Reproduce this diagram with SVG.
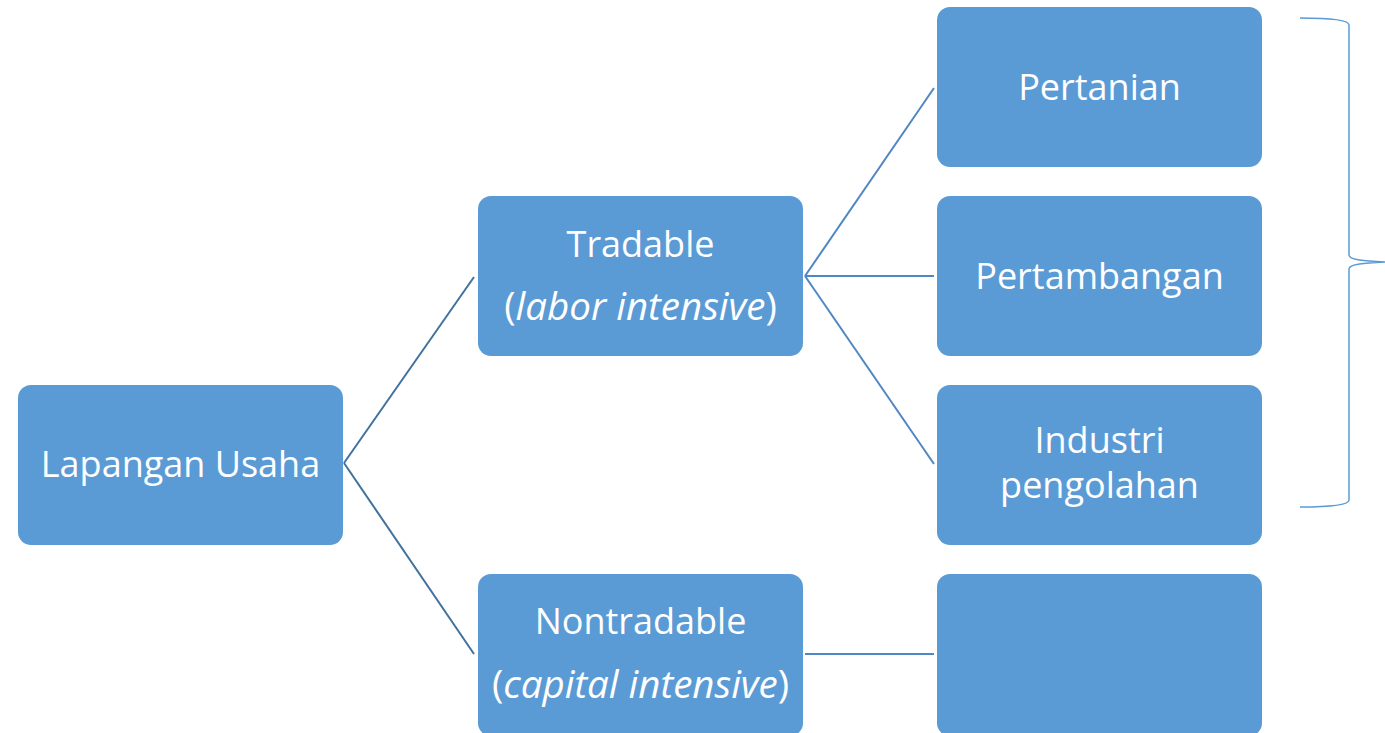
<svg xmlns="http://www.w3.org/2000/svg" width="1385" height="733" viewBox="0 0 1385 733">
<style>
.box{fill:#5B9BD5;}
.t{font-family:"Open Sans","Liberation Sans",sans-serif;font-size:36px;fill:#FFFFFF;text-anchor:middle;}
.w{font-size:38.5px;}
.i{font-style:italic;}
.c1{stroke:#41719C;stroke-width:2;fill:none;}
.c2{stroke:#4F87C3;stroke-width:2;fill:none;}
.brace{stroke:#5B9BD5;stroke-width:1.5;fill:none;}
</style>
<rect width="1385" height="733" fill="#FFFFFF"/>
<g id="connectors">
<line class="c1" x1="344" y1="463" x2="474" y2="277"/>
<line class="c1" x1="344" y1="463" x2="474" y2="654"/>
<line class="c2" x1="805" y1="276" x2="934" y2="88"/>
<line class="c2" x1="805" y1="276" x2="934" y2="276"/>
<line class="c2" x1="805" y1="276" x2="934" y2="464"/>
<line class="c2" x1="805" y1="654" x2="934" y2="654"/>
</g>
<g id="node-lapangan">
<rect class="box" x="18" y="385" width="325" height="160" rx="13"/>
<text class="t" x="180.5" y="477">Lapangan Usaha</text>
</g>
<g id="node-tradable">
<rect class="box" x="478" y="196" width="325" height="160" rx="13"/>
<text class="t" x="640.5" y="257">Tradable</text>
<text class="t w" x="640.5" y="320">(<tspan class="i">labor intensive</tspan>)</text>
</g>
<g id="node-nontradable">
<rect class="box" x="478" y="574" width="325" height="162" rx="13"/>
<text class="t" x="640.5" y="634">Nontradable</text>
<text class="t w" x="640.5" y="698">(<tspan class="i">capital intensive</tspan>)</text>
</g>
<g id="node-pertanian">
<rect class="box" x="937" y="7" width="325" height="160" rx="13"/>
<text class="t" x="1099.5" y="100">Pertanian</text>
</g>
<g id="node-pertambangan">
<rect class="box" x="937" y="196" width="325" height="160" rx="13"/>
<text class="t" x="1099.5" y="289">Pertambangan</text>
</g>
<g id="node-industri">
<rect class="box" x="937" y="385" width="325" height="160" rx="13"/>
<text class="t" x="1099.5" y="453">Industri</text>
<text class="t" x="1099.5" y="498">pengolahan</text>
</g>
<g id="node-empty">
<rect class="box" x="937" y="574" width="325" height="162" rx="13"/>
</g>
<g id="brace">
<path class="brace" d="M1300,18 C1330,18 1349,20 1349,25 L1349,255 C1349,260 1365,261 1385,262 C1365,263 1349,264 1349,269 L1349,500 C1349,505 1330,507 1300,507"/>
</g>
</svg>
